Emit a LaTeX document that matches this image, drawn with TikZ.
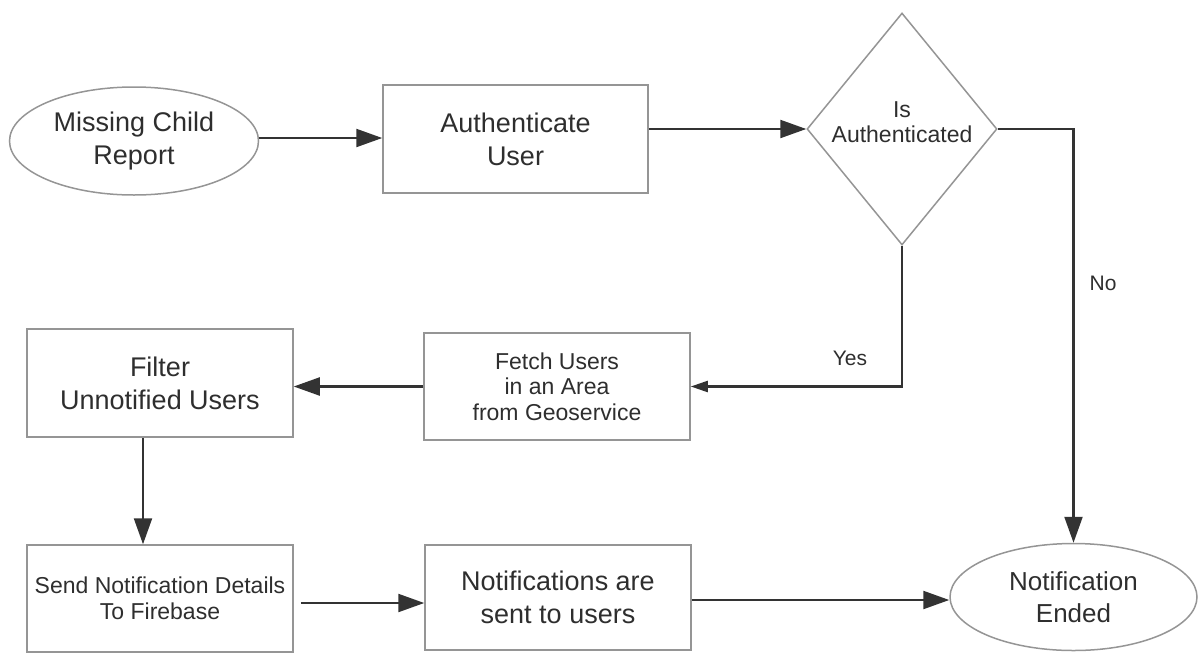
\documentclass[tikz,border=0pt]{standalone}
\usepackage{fontspec}
\setmainfont{Liberation Sans}
\usetikzlibrary{shapes.geometric,arrows.meta}
\definecolor{boxline}{HTML}{959595}
\definecolor{connc}{HTML}{333333}
\definecolor{txtc}{HTML}{2E2E2E}
\tikzset{
  box/.style={draw=boxline, line width=1.5pt, rectangle, inner sep=0pt, align=center, text=txtc},
  oval/.style={draw=boxline, line width=1.5pt, ellipse, inner sep=0pt, align=center, text=txtc},
  bigtext/.style={font=\fontsize{27}{33}\selectfont},
  smalltext/.style={font=\fontsize{23}{25.5}\selectfont},
  lbl/.style={font=\fontsize{21}{25}\selectfont, text=txtc, inner sep=0pt},
  flow/.style={draw=connc, line width=2.2pt, -{Triangle[length=26pt,width=18pt]}},
  smallflow/.style={draw=connc, line width=2.2pt, -{Triangle[length=17pt,width=11pt]}},
}
\begin{document}
\begin{tikzpicture}[x=1pt,y=-1pt]
\useasboundingbox (0,0) rectangle (1198,653);
% nodes
\node[oval, bigtext, minimum width=249pt, minimum height=108pt] (start) at (134,141) {Missing Child\\Report};
\node[box, bigtext, minimum width=265pt, minimum height=108pt] (auth) at (515.5,139) {Authenticate\\User};
\node[diamond, draw=boxline, line width=1.5pt, inner sep=0pt, minimum width=190pt, minimum height=232pt] (dec) at (902,129) {};
\node[smalltext, text=txtc, align=center, inner sep=0pt] (dectext) at (902,122) {Is\\Authenticated};
\node[box, smalltext, minimum width=266pt, minimum height=107pt] (fetch) at (557,386.5) {Fetch Users\\in an Area\\from Geoservice};
\node[box, bigtext, minimum width=266pt, minimum height=108pt] (filter) at (160,383) {Filter\\Unnotified Users};
\node[box, smalltext, minimum width=266pt, minimum height=107pt] (send) at (160,598.5) {Send Notification Details\\To Firebase};
\node[box, bigtext, minimum width=266pt, minimum height=105pt] (notif) at (558,597.5) {Notifications are\\sent to users};
\node[oval, font=\fontsize{26}{32}\selectfont, minimum width=247pt, minimum height=107pt] (end) at (1073.5,597) {Notification\\Ended};
% labels
\node[lbl] (yes) at (850,358) {Yes};
\node[lbl] (no) at (1103,283) {No};
% connectors
\draw[flow] ([yshift=3pt]start.east) -- ([yshift=3pt]start.east -| auth.west);
\draw[flow] (auth.east |- dec.west) -- (dec.west);
\draw[flow] (dec.east) -| (end.north);
\draw[smallflow] (dec.south) |- (fetch.east);
\draw[flow] (fetch.west) -- (fetch.west -| filter.east);
\draw[flow] ([xshift=-17pt]filter.south) -- ([xshift=-17pt]send.north);
\draw[flow] ([shift={(7pt,-4.5pt)}]send.east) -- ([yshift=-5.5pt]notif.west);
\draw[flow] ([yshift=-2.5pt]notif.east) -- ([yshift=-2.5pt]notif.east -| end.west);
\end{tikzpicture}
\end{document}
